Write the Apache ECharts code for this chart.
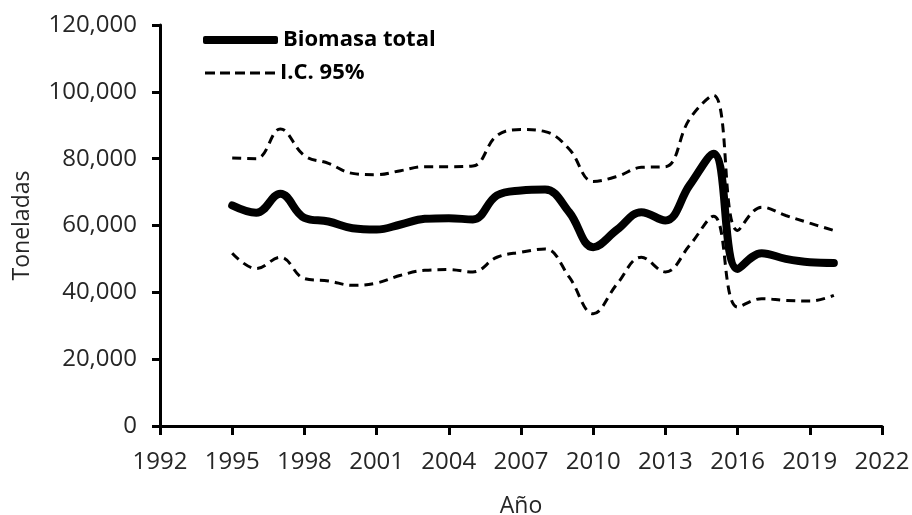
<!DOCTYPE html>
<html>
<head>
<meta charset="utf-8">
<script src="https://cdn.jsdelivr.net/npm/echarts@6/dist/echarts.min.js"></script>
<style>
    html, body {margin: 0; padding: 0; background: #ffffff;}
    #chart {width: 912px; height: 515px;}
</style>
</head>
<body>
<div id="chart"></div>
<script>
// datos
var years = [1995, 1996, 1997, 1998, 1999, 2000, 2001, 2002, 2003, 2004, 2005, 2006, 2007,
    2008, 2009, 2010, 2011, 2012, 2013, 2014, 2015, 2016, 2017, 2018, 2019, 2020];
var biomasa = [66000, 63800, 69500, 62300, 61200, 59200, 58800, 60300, 62000, 62200, 61800, 69000, 70500,
    70800, 64000, 53500, 58800, 64000, 61500, 72000, 81500, 47000, 51700, 50000, 49000, 48800];
var icUpper = [80200, 80000, 88900, 80900, 78600, 75600, 75200, 76400, 77600, 77600, 77800, 86900, 88700,
    88100, 82900, 73200, 74700, 77400, 77600, 91800, 99000, 58500, 65500, 63000, 60700, 58500];
var icLower = [51700, 47100, 50500, 44100, 43400, 42100, 42800, 45100, 46600, 46800, 46100, 50500, 52000,
    53000, 44600, 33600, 42600, 50500, 46100, 54000, 62800, 35600, 38100, 37600, 37400, 39100];
var xMin = 1992, xMax = 2022, xStep = 3;
var yMin = 0, yMax = 120000, yStep = 20000;

function pairs(values) {
    return years.map(function (y, i) {
        return [y, values[i]];
    });
}

var fontName = 'Open Sans';
var axisColor = '#000000';
var textColor = '#262626';
// icono de guiones para la leyenda
var dashIcon = 'path://M0,0h10v3h-10z M15,0h10v3h-10z M30,0h10v3h-10z M45,0h10v3h-10z M60,0h10v3h-10z';

var legendText = {
    fontFamily: fontName,
    fontWeight: 'bold',
    fontSize: 22,
    color: '#000000'
};

var chart = echarts.init(document.getElementById('chart'));
var option = {
    animation: false,
    backgroundColor: '#ffffff',
    grid: {
        left: 160,
        right: 30,
        top: 25,
        bottom: 89,
        outerBoundsMode: 'none'
    },
    legend: [
        {
            left: 198,
            top: 24,
            itemWidth: 75,
            itemHeight: 8,
            itemGap: 4,
            data: [{name: 'Biomasa total', icon: 'roundRect'}],
            textStyle: legendText
        },
        {
            left: 200,
            top: 57,
            itemWidth: 70,
            itemHeight: 3,
            itemGap: 4,
            data: [{name: 'I.C. 95%', icon: dashIcon}],
            textStyle: legendText
        }
    ],
    xAxis: {
        type: 'value',
        min: xMin,
        max: xMax,
        interval: xStep,
        name: 'Año',
        nameLocation: 'middle',
        nameGap: 69,
        nameTextStyle: {
            fontFamily: fontName,
            fontSize: 23,
            color: textColor
        },
        axisLine: {show: true, lineStyle: {color: axisColor, width: 3}},
        axisTick: {show: true, length: 9, lineStyle: {color: axisColor, width: 3}},
        splitLine: {show: false},
        axisLabel: {
            margin: 24,
            fontFamily: fontName,
            fontSize: 24,
            color: textColor,
            formatter: function (v) {
                return String(v);
            }
        }
    },
    yAxis: {
        type: 'value',
        min: yMin,
        max: yMax,
        interval: yStep,
        name: 'Toneladas',
        nameLocation: 'middle',
        nameGap: 126,
        nameTextStyle: {
            fontFamily: fontName,
            fontSize: 23,
            color: textColor
        },
        axisLine: {show: true, lineStyle: {color: axisColor, width: 3}},
        axisTick: {show: true, length: 8, lineStyle: {color: axisColor, width: 3}},
        splitLine: {show: false},
        axisLabel: {
            margin: 23,
            fontFamily: fontName,
            fontSize: 24,
            color: textColor,
            formatter: function (v) {
                return echarts.format.addCommas(v);
            }
        }
    },
    series: [
        {
            name: 'I.C. 95%',
            type: 'line',
            data: pairs(icUpper),
            smooth: 0.4,
            symbol: 'none',
            lineStyle: {color: '#000000', width: 3, type: [9, 6]},
            itemStyle: {color: '#000000'}
        },
        {
            name: 'I.C. 95%',
            type: 'line',
            data: pairs(icLower),
            smooth: 0.4,
            symbol: 'none',
            lineStyle: {color: '#000000', width: 3, type: [9, 6]},
            itemStyle: {color: '#000000'}
        },
        {
            name: 'Biomasa total',
            type: 'line',
            data: pairs(biomasa),
            smooth: 0.4,
            symbol: 'none',
            lineStyle: {color: '#000000', width: 8, cap: 'round'},
            itemStyle: {color: '#000000'}
        }
    ]
};
chart.setOption(option);
</script>
</body>
</html>
